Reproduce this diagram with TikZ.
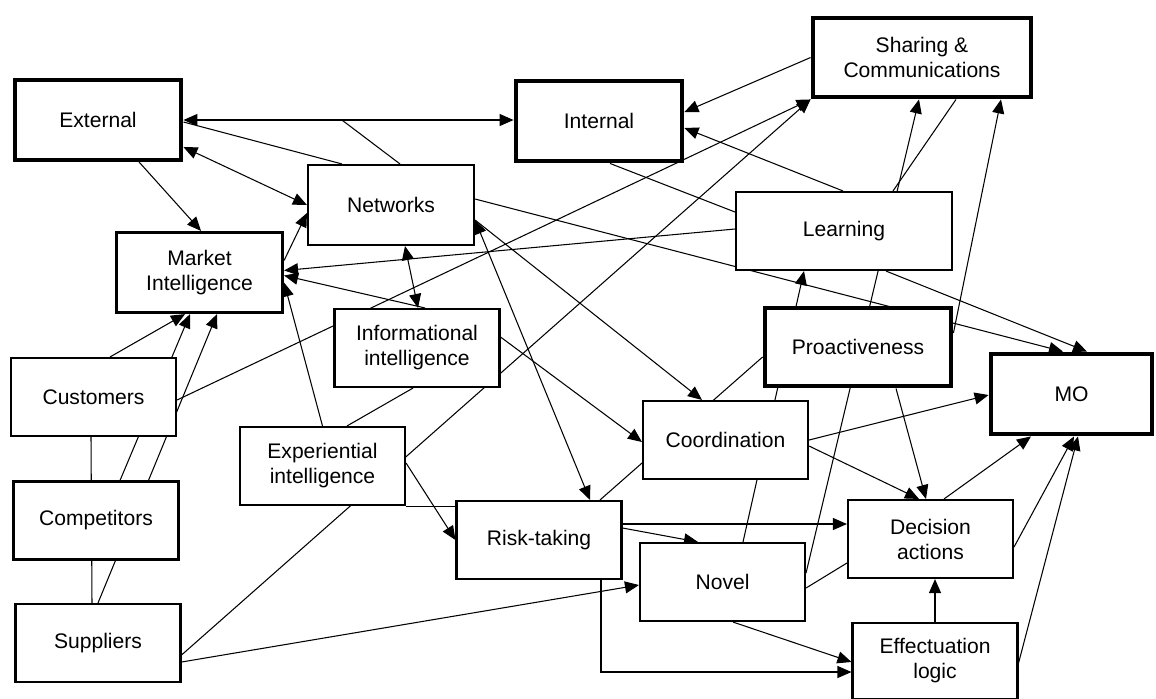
\documentclass[tikz,border=0pt]{standalone}
\usepackage{fontspec}
\setmainfont{Liberation Sans}
\usetikzlibrary{arrows.meta,backgrounds}

\begin{document}
\begin{tikzpicture}[
    x=0.02cm, y=-0.02cm,
    box/.style={draw, fill=white, line width=1.2pt, align=center, inner sep=2pt,
        minimum width=3.3cm, minimum height=1.56cm, font=\fontsize{12}{14.2}\selectfont},
    midbox/.style={box, line width=1.8pt},
    keybox/.style={box, line width=2.5pt},
    arrow/.style={-{Triangle[length=2.8mm,width=2.4mm]}, line width=0.6pt},
    twoway/.style={{Triangle[length=2.8mm,width=2.4mm]}-{Triangle[length=2.8mm,width=2.4mm]}, line width=0.6pt},
    link/.style={line width=0.6pt}
]
\useasboundingbox (0,0) rectangle (1156,698);

% outcome and knowledge boxes
\node[keybox, minimum width=3.33cm, minimum height=1.59cm] (ext) at (98,120) {External};
\node[keybox, minimum width=3.33cm, minimum height=1.61cm] (int) at (599,121) {Internal};
\node[keybox, minimum width=4.37cm, minimum height=1.59cm] (sha) at (922,57.5) {Sharing \&\\Communications};
\node[keybox, minimum width=3.73cm, minimum height=1.57cm] (pro) at (858,347) {Proactiveness};
\node[keybox, minimum width=3.23cm, minimum height=1.61cm] (mo) at (1071.5,394) {MO};
\node[midbox, minimum width=3.32cm, minimum height=1.6cm] (mi) at (199.5,272.5) {Market\\Intelligence};

% intelligence and process boxes
\node[box, minimum width=3.32cm, minimum height=1.6cm] (net) at (391,205) {Networks};
\node[box, minimum width=4.32cm] (lrn) at (844,231) {Learning};
\node[box] (inf) at (417,348) {Informational\\intelligence};
\node[box] (exp) at (322.5,466) {Experiential\\intelligence};
\node[box] (coo) at (725.5,440) {Coordination};
\node[box] (rsk) at (539,540) {Risk-taking};
\node[box] (nov) at (722.5,582) {Novel};
\node[box] (dec) at (930.5,539) {Decision\\actions};
\node[box, minimum height=1.52cm] (eff) at (935,661) {Effectuation\\logic};

% stakeholders
\node[box] (cus) at (93.5,397) {Customers};
\node[box] (com) at (96,520.5) {Competitors};
\node[box] (sup) at (98,643) {Suppliers};

\begin{scope}[on background layer]
% external / internal links
\draw[twoway] (ext.east) -- (ext.east -| int.west) coordinate[pos=0.48] (topmid);
\draw[link] ([shift={(0,2)}]ext.east) -- ([shift={(-49,0)}]net.north);
\draw[link] (topmid) -- ([shift={(9,0)}]net.north);
\draw[twoway] ([shift={(0,27)}]ext.east) -- (net.west);
\draw[arrow] ([shift={(41,0)}]ext.south) -- ([shift={(1.5,0)}]mi.north);
\draw[arrow] ([shift={(0,-12)}]mi.east) -- ([shift={(0,8)}]net.west);
\draw[arrow] (sha.west) -- ([shift={(0,-9)}]int.east);
\draw[arrow] ([shift={(-1,0)}]lrn.north) -- ([shift={(0,7)}]int.east);
\draw[link] ([shift={(11,0)}]int.south) -- ([shift={(0,-19)}]lrn.west);

% into market intelligence
\draw[arrow] ([shift={(0,-2)}]lrn.west) -- ([shift={(0,-2)}]mi.east);
\draw[arrow] ([shift={(8,0)}]inf.north) -- ([shift={(0,3)}]mi.east);
\draw[arrow] (exp.north) -- ([shift={(0,10)}]mi.east);
\draw[arrow] ([shift={(16.5,0)}]cus.north) -- ([shift={(-14.5,0)}]mi.south);
\draw[arrow] ([shift={(24,0)}]com.north) -- ([shift={(-9.5,0)}]mi.south);
\draw[arrow] (sup.north) -- ([shift={(17.5,0)}]mi.south);
\draw[link] ([shift={(-2.5,0)}]cus.south) -- ([shift={(-6,0)}]sup.north);

% into sharing & communications
\draw[arrow] ([shift={(0,3)}]cus.east) -- (sha.south west);
\draw[arrow] ([shift={(0,12)}]sup.east) -- (sha.south west);
\draw[arrow] ([shift={(0,-9)}]nov.east) -- ([shift={(-3,0)}]sha.south);
\draw[link] ([shift={(34,0)}]sha.south) -- ([shift={(49,0)}]lrn.north);
\draw[arrow] ([shift={(0,-14)}]pro.east) -- ([shift={(79,0)}]sha.south);

% networks and intelligence
\draw[twoway] ([shift={(14,0)}]net.south) -- ([shift={(1,0)}]inf.north);
\draw[twoway] ([shift={(0,15)}]net.east) -- ([shift={(51,0)}]rsk.north);
\draw[arrow] ([shift={(0,15)}]net.east) -- ([shift={(-23.5,0)}]coo.north);
\draw[arrow] ([shift={(0,-11)}]inf.east) -- ([shift={(0,2)}]coo.west);
\draw[link] ([shift={(-4,0)}]inf.south) -- ([shift={(24.5,0)}]exp.north);
\draw[arrow] ([shift={(0,-3)}]exp.east) -- (rsk.west);
\draw[link] (exp.south east) -- (exp.south east -| rsk.west);
\draw[arrow] ([shift={(20.5,0)}]nov.north) -- ([shift={(-40,0)}]lrn.south);
\draw[link] ([shift={(61,0)}]rsk.north) -- ([shift={(0,10)}]pro.west);

% towards MO
\draw[arrow] ([shift={(0,-6)}]net.east) -- ([shift={(-8.5,0)}]mo.north);
\draw[arrow] ([shift={(42,0)}]lrn.south) -- ([shift={(15.5,0)}]mo.north);
\draw[arrow] (coo.east) -- ([shift={(0,1)}]mo.west);
\draw[arrow] ([shift={(13.5,0)}]dec.north) -- ([shift={(-40.5,0)}]mo.south);
\draw[arrow] ([shift={(0,8)}]dec.east) -- ([shift={(2.5,0)}]mo.south);
\draw[arrow] ([shift={(0,2)}]eff.east) -- ([shift={(6.5,0)}]mo.south);

% decisions and effectuation
\draw[arrow] ([shift={(0,6)}]coo.east) -- ([shift={(-11.5,0)}]dec.north);
\draw[arrow] ([shift={(38,0)}]pro.south) -- ([shift={(-4.5,0)}]dec.north);
\draw[arrow] (eff.north) -- (eff.north |- dec.south);
\draw[arrow] ([shift={(0,-16)}]rsk.east) -- ([shift={(0,-16)}]rsk.east -| dec.west);
\draw[arrow] ([shift={(0,-12)}]rsk.east) -- ([shift={(-24.5,0)}]nov.north);
\draw[link] ([shift={(0,6)}]nov.east) -- ([shift={(0,24)}]dec.west);
\draw[arrow] ([shift={(10.5,0)}]nov.south) -- ([shift={(0,1)}]eff.west);
\draw[arrow] ([shift={(62,0)}]rsk.south) |- ([shift={(0,11)}]eff.west);
\draw[arrow] ([shift={(0,19)}]sup.east) -- ([shift={(0,3)}]nov.west);
\end{scope}
\end{tikzpicture}
\end{document}
